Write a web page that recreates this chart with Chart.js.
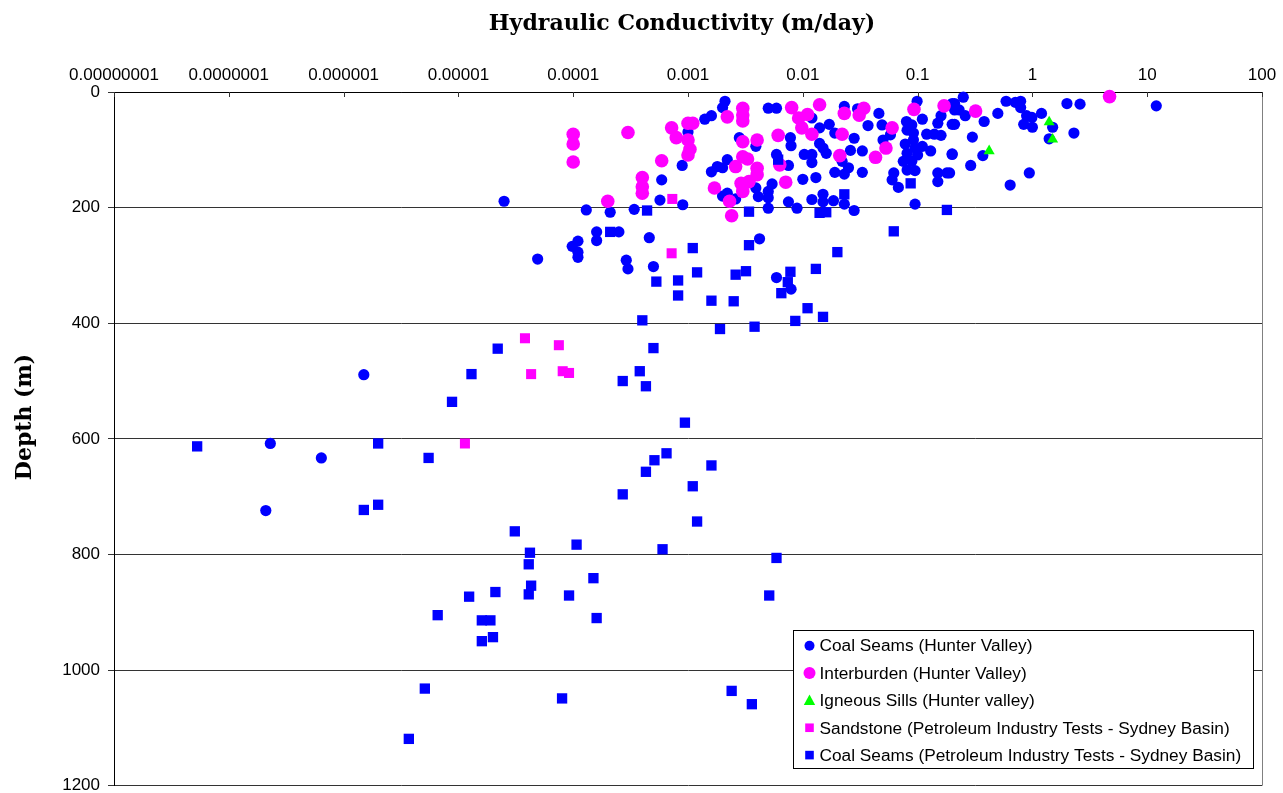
<!DOCTYPE html>
<html>
<head>
<meta charset="utf-8">
<script src="https://cdn.jsdelivr.net/npm/chart.js@4.4.1/dist/chart.umd.min.js"></script>
<style>
  html, body { margin: 0; padding: 0; background: #ffffff; }
  #wrap { width: 1283px; height: 793px; position: relative; }
</style>
</head>
<body>
<div id="wrap"><canvas id="chart" width="1283" height="793"></canvas></div>
<script>
// Axis ticks
const xTickValues = [1e-8, 1e-7, 1e-6, 1e-5, 1e-4, 1e-3, 1e-2, 1e-1, 1, 10, 100];
const xTickLabels = ['0.00000001', '0.0000001', '0.000001', '0.00001', '0.0001', '0.001', '0.01', '0.1', '1', '10', '100'];
const yTickValues = [0, 200, 400, 600, 800, 1000, 1200];

// Coal Seams (Hunter Valley): hydraulic conductivity (m/day) and depth (m)
const coalHunterK = [
  0.0021, 0.0020, 0.0014, 0.0016, 0.0010, 0.00089, 0.00059, 0.00057, 0.00090, 0.00034,
  0.00021, 0.00013, 0.0016, 0.0018, 0.0020, 0.0022, 0.0020, 0.0022, 0.0026, 0.0028,
  0.0039, 0.0039, 0.0041, 0.00016, 0.00025, 0.00046, 0.000025, 0.000049, 0.00016, 0.00011,
  0.000098, 0.00011, 0.00011, 0.00029, 0.00030, 0.00050, 0.0050, 0.0059, 0.012, 0.014,
  0.017, 0.023, 0.030, 0.046, 0.037, 0.049, 0.099, 0.20, 0.16, 0.15,
  0.11, 0.080, 0.089, 0.081, 0.092, 0.12, 0.14, 0.16, 0.20, 0.0078,
  0.0079, 0.019, 0.028, 0.058, 0.050, 0.014, 0.015, 0.016, 0.0103, 0.012,
  0.012, 0.0059, 0.0075, 0.026, 0.033, 0.078, 0.092, 0.095, 0.11, 0.13,
  0.10, 0.081, 0.075, 0.089, 0.20, 0.022, 0.025, 0.019, 0.023, 0.033,
  0.081, 0.095, 0.062, 0.060, 0.068, 0.15, 0.18, 0.15, 0.010, 0.013,
  0.0054, 0.0050, 0.0050, 0.0075, 0.0050, 0.0089, 0.012, 0.015, 0.015, 0.0185,
  0.023, 0.028, 0.095, 0.25, 0.21, 0.21, 0.23, 0.26, 0.21, 0.38,
  0.50, 0.59, 0.71, 0.79, 0.79, 0.89, 0.99, 1.2, 0.84, 1.0,
  1.5, 1.4, 2.0, 2.6, 2.3, 12, 0.30, 0.20, 0.37, 0.29,
  0.19, 0.94, 0.64, 0.0042, 0.0059, 0.0079, 0.0000015, 0.00000023, 0.00000064, 0.00000021
];
const coalHunterDepth = [
  16, 27, 47, 41, 69, 127, 152, 187, 195, 203,
  208, 204, 138, 129, 131, 117, 180, 175, 185, 79,
  94, 166, 181, 242, 242, 252, 189, 289, 257, 258,
  267, 277, 286, 291, 306, 302, 28, 28, 45, 62,
  56, 25, 29, 37, 58, 57, 16, 20, 41, 54,
  47, 51, 57, 66, 71, 73, 73, 75, 56, 79,
  93, 71, 80, 74, 83, 89, 97, 106, 108, 108,
  122, 108, 127, 101, 102, 90, 83, 97, 94, 102,
  109, 106, 120, 120, 108, 120, 131, 139, 142, 139,
  135, 136, 140, 152, 165, 140, 140, 155, 151, 148,
  159, 172, 183, 190, 201, 201, 186, 177, 190, 188,
  194, 205, 194, 9, 20, 31, 31, 41, 56, 51,
  37, 16, 18, 16, 27, 41, 44, 37, 56, 61,
  61, 81, 20, 21, 71, 24, 78, 107, 110, 127,
  140, 140, 161, 254, 321, 341, 489, 608, 633, 724
];

// Interburden (Hunter Valley)
const interburdenK = [
  0.0001, 0.0001, 0.0001, 0.0003, 0.00072, 0.00079, 0.0010, 0.0011, 0.0010, 0.00104,
  0.0010, 0.00059, 0.0004, 0.0004, 0.0004, 0.0002, 0.0022, 0.0030, 0.0030, 0.0030,
  0.0030, 0.0040, 0.0030, 0.0033, 0.0026, 0.0040, 0.0040, 0.0029, 0.0034, 0.0030,
  0.0017, 0.0023, 0.0024, 0.0080, 0.014, 0.011, 0.0092, 0.0098, 0.012, 0.0061,
  0.023, 0.031, 0.034, 0.022, 0.060, 0.053, 0.043, 0.021, 0.093, 0.17,
  0.0063, 0.0071, 0.32, 4.7
];
const interburdenDepth = [
  73, 90, 121, 70, 62, 79, 54, 54, 83, 99,
  109, 119, 148, 164, 175, 189, 43, 28, 40, 50,
  86, 83, 112, 116, 129, 132, 143, 158, 155, 172,
  166, 189, 214, 27, 22, 39, 45, 62, 73, 75,
  37, 40, 28, 73, 62, 97, 113, 110, 30, 24,
  126, 156, 33, 8
];

// Igneous Sills (Hunter valley)
const igneousK = [1.4, 1.5, 0.42];
const igneousDepth = [52, 82, 102];

// Sandstone (Petroleum Industry Tests - Sydney Basin)
const sandstoneK = [0.00073, 0.00072, 0.000038, 0.000075, 0.000043, 0.000081, 0.000092, 0.0000114];
const sandstoneDepth = [185, 279, 426, 438, 488, 483, 486, 608];

// Coal Seams (Petroleum Industry Tests - Sydney Basin)
const coalSydneyK = [
  0.00044, 0.0034, 0.00021, 0.0061, 0.023, 0.014, 0.016, 0.087, 0.18, 0.062,
  0.0034, 0.0011, 0.020, 0.0012, 0.00053, 0.00082, 0.00082, 0.0026, 0.0032, 0.0078,
  0.0074, 0.0065, 0.013, 0.0016, 0.0025, 0.011, 0.015, 0.0086, 0.0019, 0.0038,
  0.0004, 0.0005, 0.00038, 0.00027, 0.00043, 0.000022, 0.000013, 0.0000088, 0.00094, 0.00065,
  0.00051, 0.00043, 0.00027, 0.0016, 0.0011, 0.0012, 0.000031, 0.000042, 0.000041, 0.000043,
  0.000041, 0.0000124, 0.000021, 0.0000066, 0.000016, 0.000019, 0.000016, 0.000020, 0.000107, 0.0006,
  0.0059, 0.00015, 0.000092, 0.0051, 0.00016, 0.0000051, 0.00008, 0.0024, 0.0036, 0.0000037,
  0.000000053, 0.0000020, 0.0000055, 0.0000015, 0.0000020
];
const coalSydneyDepth = [
  205, 207, 242, 117, 177, 209, 208, 158, 204, 241,
  265, 270, 277, 312, 328, 326, 352, 316, 310, 311,
  329, 348, 306, 361, 362, 374, 389, 396, 410, 406,
  395, 443, 483, 500, 509, 444, 488, 536, 572, 625,
  637, 657, 696, 646, 682, 743, 760, 797, 817, 854,
  869, 873, 865, 905, 914, 914, 950, 943, 783, 791,
  806, 841, 871, 871, 910, 1032, 1049, 1036, 1059, 1119,
  613, 608, 633, 723, 714
];

const toPoints = (k, d) => k.map((v, i) => ({ x: v, y: d[i] }));

const seriesDefs = [
  { label: 'Coal Seams (Hunter Valley)', k: coalHunterK, d: coalHunterDepth, color: '#0000ff', style: 'circle', radius: 5.6, legendR: 5, order: 5 },
  { label: 'Interburden (Hunter Valley)', k: interburdenK, d: interburdenDepth, color: '#ff00ff', style: 'circle', radius: 6.8, legendR: 6, order: 4 },
  { label: 'Igneous Sills (Hunter valley)', k: igneousK, d: igneousDepth, color: '#00ff00', style: 'triangle', radius: 6.4, legendR: 6, order: 3 },
  { label: 'Sandstone (Petroleum Industry Tests - Sydney Basin)', k: sandstoneK, d: sandstoneDepth, color: '#ff00ff', style: 'rect', radius: 7.1, legendR: 4.3, order: 2 },
  { label: 'Coal Seams (Petroleum Industry Tests - Sydney Basin)', k: coalSydneyK, d: coalSydneyDepth, color: '#0000ff', style: 'rect', radius: 7.3, legendR: 4.3, order: 1 }
];

const datasets = seriesDefs.map(s => ({
  label: s.label,
  data: toPoints(s.k, s.d),
  pointStyle: s.style,
  pointRadius: s.radius,
  pointHoverRadius: s.radius,
  pointBackgroundColor: s.color,
  pointBorderColor: s.color,
  pointBorderWidth: 0,
  showLine: false,
  clip: false,
  order: s.order
}));

const sansFont = '"Liberation Sans", Arial, sans-serif';
const serifFont = '"DejaVu Serif", serif';

function drawMarker(ctx, style, x, y, r, color) {
  ctx.fillStyle = color;
  ctx.beginPath();
  if (style === 'circle') {
    ctx.arc(x, y, r, 0, Math.PI * 2);
  } else if (style === 'rect') {
    ctx.rect(x - r, y - r, 2 * r, 2 * r);
  } else if (style === 'triangle') {
    ctx.moveTo(x, y - r);
    ctx.lineTo(x + r * 0.95, y + r * 0.75);
    ctx.lineTo(x - r * 0.95, y + r * 0.75);
    ctx.closePath();
  }
  ctx.fill();
}

// Axis titles, inner tick marks, right frame line and the boxed legend
const decorations = {
  id: 'decorations',
  afterDraw(chart) {
    const ctx = chart.ctx;
    const area = chart.chartArea;
    const xs = chart.scales.x;
    ctx.save();

    // right frame line
    ctx.strokeStyle = '#808080';
    ctx.lineWidth = 1;
    ctx.beginPath();
    ctx.moveTo(area.right + 0.5, area.top);
    ctx.lineTo(area.right + 0.5, area.bottom);
    ctx.stroke();

    // tick marks of the top axis, pointing into the plot
    ctx.strokeStyle = '#333333';
    xs.ticks.forEach(t => {
      const px = Math.round(xs.getPixelForValue(t.value)) + 0.5;
      ctx.beginPath();
      ctx.moveTo(px, area.top);
      ctx.lineTo(px, area.top + 5);
      ctx.stroke();
    });

    // axis titles
    ctx.fillStyle = '#000000';
    ctx.font = 'bold 22px ' + serifFont;
    ctx.textAlign = 'center';
    ctx.textBaseline = 'alphabetic';
    ctx.fillText('Hydraulic Conductivity (m/day)', 682, 30);
    ctx.save();
    ctx.translate(31, 417);
    ctx.rotate(-Math.PI / 2);
    ctx.fillText('Depth (m)', 0, 0);
    ctx.restore();

    // legend
    const bx = 793.5, by = 630.5, bw = 460, bh = 138;
    ctx.fillStyle = '#ffffff';
    ctx.fillRect(bx, by, bw, bh);
    ctx.strokeStyle = '#000000';
    ctx.lineWidth = 1;
    ctx.strokeRect(bx, by, bw, bh);
    ctx.font = '17.3px ' + sansFont;
    ctx.textAlign = 'left';
    ctx.textBaseline = 'middle';
    seriesDefs.forEach((s, i) => {
      const cy = 645.7 + i * 27.35;
      drawMarker(ctx, s.style, 809.5, cy, s.legendR, s.color);
      ctx.fillStyle = '#000000';
      ctx.fillText(s.label, 819.5, cy + 1);
    });

    ctx.restore();
  }
};

new Chart(document.getElementById('chart'), {
  type: 'scatter',
  data: { datasets },
  options: {
    responsive: false,
    devicePixelRatio: 1,
    animation: false,
    events: [],
    layout: { padding: { left: 0, top: 0, right: 21, bottom: 6 } },
    plugins: {
      legend: { display: false },
      tooltip: { enabled: false },
      title: { display: false }
    },
    scales: {
      x: {
        type: 'logarithmic',
        position: 'top',
        min: 1e-8,
        max: 100,
        afterBuildTicks: scale => { scale.ticks = xTickValues.map(v => ({ value: v })); },
        afterFit: scale => { scale.height = 92; scale.paddingLeft = 0; scale.paddingRight = 0; },
        ticks: {
          autoSkip: false,
          maxRotation: 0,
          padding: 6,
          color: '#000000',
          font: { family: sansFont, size: 17 },
          callback: value => xTickLabels[xTickValues.indexOf(value)]
        },
        grid: { display: false, drawTicks: false },
        border: { display: true, color: '#000000', width: 1 }
      },
      y: {
        type: 'linear',
        reverse: true,
        min: 0,
        max: 1200,
        afterBuildTicks: scale => { scale.ticks = yTickValues.map(v => ({ value: v })); },
        afterFit: scale => { scale.width = 114; scale.paddingTop = 0; scale.paddingBottom = 0; },
        ticks: {
          padding: 8,
          color: '#000000',
          font: { family: sansFont, size: 17, lineHeight: 0.5 },
          callback: value => String(value)
        },
        grid: { color: '#333333', lineWidth: 1, tickLength: 6, drawTicks: true },
        border: { display: true, color: '#000000', width: 1 }
      }
    }
  },
  plugins: [decorations]
});
</script>
</body>
</html>
